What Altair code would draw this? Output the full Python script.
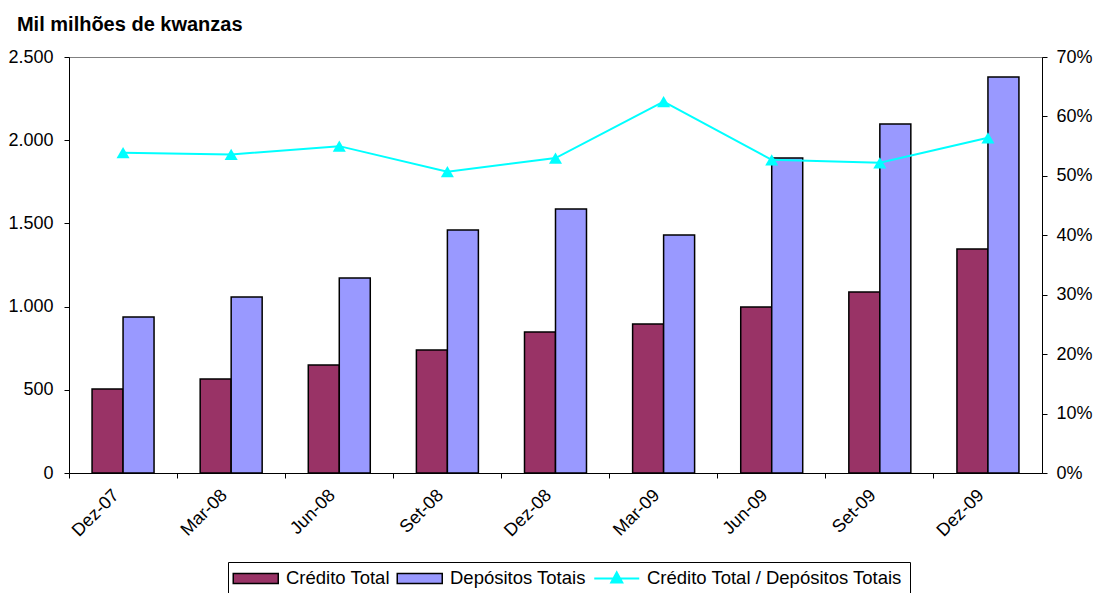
import altair as alt
import pandas as pd

periods = ["Dez-07", "Mar-08", "Jun-08", "Set-08", "Dez-08", "Mar-09", "Jun-09", "Set-09", "Dez-09"]
credito = [505, 565, 649, 739, 847, 895, 998, 1088, 1346]
depositos = [937, 1058, 1172, 1460, 1587, 1430, 1893, 2097, 2380]
ratio_pct = [53.9, 53.6, 55.0, 50.7, 53.0, 62.5, 52.7, 52.2, 56.4]

S1 = "Crédito Total"
S2 = "Depósitos Totais"
S3 = "Crédito Total / Depósitos Totais"
left_ticks = [0, 500, 1000, 1500, 2000, 2500]
right_ticks = [0, 0.1, 0.2, 0.3, 0.4, 0.5, 0.6, 0.7]

F = "Liberation Sans, Arial, sans-serif"
FS = 18
CYAN = "#00FFFF"

bars_df = pd.DataFrame({
    "periodo": periods * 2,
    "serie": [S1] * len(periods) + [S2] * len(periods),
    "valor": credito + depositos,
})
line_df = pd.DataFrame({
    "periodo": periods,
    "serie": [S3] * len(periods),
    "ratio": [r / 100 for r in ratio_pct],
})

rect_path = "M-2.25,-0.5H2.25V0.5H-2.25Z"
line_path = "M-2.25,0H2.25M0,-0.6L0.55,0.4H-0.55Z"
is_line = f"datum.value === '{S3}'"

legend = alt.Legend(
    title=None, orient="none", legendX=159, legendY=505, direction="horizontal",
    strokeColor="black", padding=7, labelFont=F, labelFontSize=18.5, labelColor="black",
    labelLimit=500,
    symbolSize=400, symbolOffset=11.5, labelOffset=21, columnPadding=4,
    symbolType=alt.ExprRef(expr=f"{is_line} ? '{line_path}' : '{rect_path}'"),
    symbolStrokeColor=alt.ExprRef(expr=f"{is_line} ? '{CYAN}' : 'black'"),
    symbolStrokeWidth=alt.ExprRef(expr=f"{is_line} ? 2 : 1.5"),
    symbolOpacity=1,
)

fill_scale = alt.Scale(domain=[S1, S2, S3], range=["#993366", "#9999FF", CYAN])

x_enc = alt.X(
    "periodo:N", sort=periods,
    scale=alt.Scale(paddingInner=0, paddingOuter=0),
    axis=alt.Axis(title=None, labelAngle=-45, bandPosition=0, labelOffset=-13,
                  labelFont=F, labelFontSize=FS, labelColor="black", labelPadding=8,
                  tickColor="black", tickSize=5, domainColor="black", grid=False),
)

bars = alt.Chart(bars_df).mark_bar(stroke="black", strokeWidth=1.5).encode(
    x=x_enc,
    xOffset=alt.XOffset("serie:N", sort=[S1, S2], scale=alt.Scale(paddingInner=0, paddingOuter=0.744)),
    y=alt.Y("valor:Q", scale=alt.Scale(domain=[0, 2500], nice=False),
            axis=alt.Axis(title=None, values=left_ticks,
                          labelExpr="replace(format(datum.value, ','), ',', '.')",
                          labelFont=F, labelFontSize=FS, labelColor="black", labelPadding=11,
                          tickColor="black", tickSize=5, domainColor="black", grid=False)),
    fill=alt.Fill("serie:N", scale=fill_scale, legend=legend),
)

line = alt.Chart(line_df).mark_line(strokeWidth=2, color=CYAN).encode(
    x=alt.X("periodo:N", sort=periods),
    y=alt.Y("ratio:Q", scale=alt.Scale(domain=[0, 0.7], nice=False),
            axis=alt.Axis(title=None, orient="right", values=right_ticks, format=".0%",
                          labelFont=F, labelFontSize=FS, labelColor="black", labelPadding=9,
                          tickColor="black", tickSize=5, domainColor="black", grid=False)),
)
points = alt.Chart(line_df).mark_point(shape="triangle-up", filled=True, size=170, opacity=1, color=CYAN).encode(
    x=alt.X("periodo:N", sort=periods),
    y=alt.Y("ratio:Q"),
)

ratio_layer = alt.layer(line, points)

chart = alt.layer(bars, ratio_layer).resolve_scale(y="independent").properties(
    width=973, height=416,
    padding={"left": 69, "top": 57, "right": 53, "bottom": 120},
    autosize=alt.AutoSizeParams(type="none"),
    title=alt.Title("Mil milhões de kwanzas", anchor="start", font=F, fontSize=20,
                    fontWeight="bold", color="black", dx=9, offset=-3, baseline="alphabetic"),
).configure_view(stroke="#808080", strokeWidth=1)

chart.save("out.html", embed_options={"renderer": "svg", "actions": False})
